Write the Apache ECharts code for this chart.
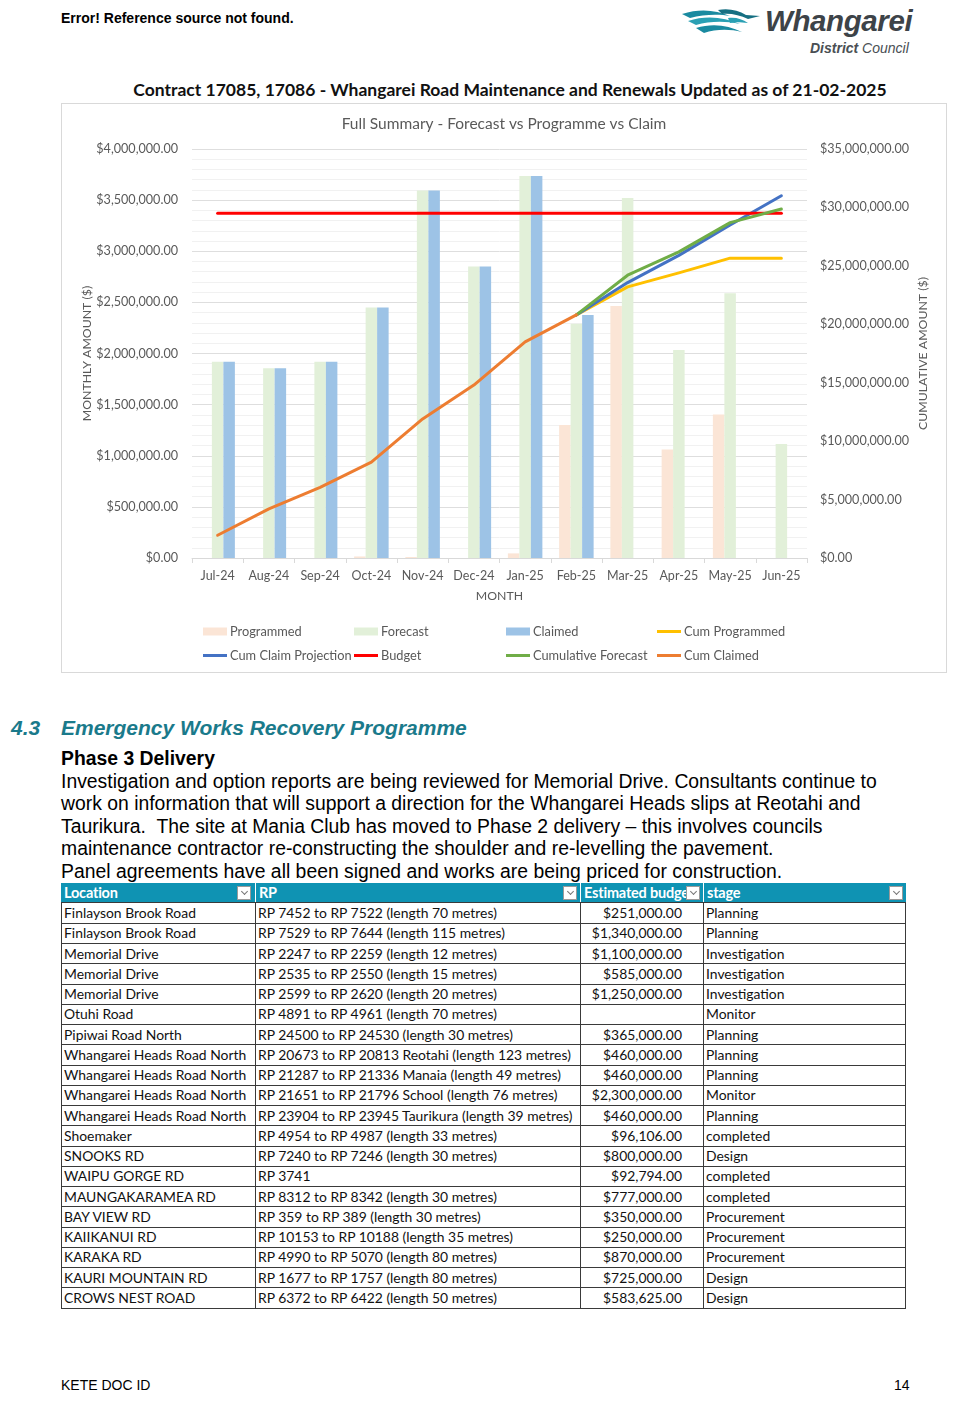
<!DOCTYPE html>
<html>
<head>
<meta charset="utf-8">
<script src="https://cdn.jsdelivr.net/npm/echarts@6/dist/echarts.min.js"></script>
<style>
  html, body { margin:0; padding:0; background:#fff; }
  body { width:967px; height:1402px; position:relative; overflow:hidden; font-family:"Liberation Sans", Arial, sans-serif; color:#000; }
  .abs { position:absolute; white-space:pre; }
  #chartBox { position:absolute; left:61px; top:103px; width:884px; height:568px; border:1px solid #d9d9d9; }
  #chart { position:absolute; left:61px; top:103px; width:886px; height:570px; }
  .para { font-size:20px; line-height:22px; transform:scaleX(0.968); transform-origin:0 0; }
  .cell { position:absolute; box-sizing:border-box; font-family:Lato, "Open Sans", sans-serif; font-size:13.9px; color:#111; white-space:nowrap; overflow:hidden; padding-left:3px; line-height:20px; }
  .hcell { position:absolute; box-sizing:border-box; font-family:Lato, sans-serif; font-weight:bold; font-size:14.5px; color:#fff; white-space:nowrap; overflow:hidden; padding-left:3px; line-height:20px; background:#0f93b3; letter-spacing:-0.2px; }
  .btn { position:absolute; width:14px; height:14px; top:3px; background:#fff; border:1px solid #9a9a9a; box-sizing:border-box; z-index:2; }
  .btn:after { content:""; position:absolute; left:3.5px; top:2px; width:4px; height:4px; border-right:1px solid #777; border-bottom:1px solid #777; transform:rotate(45deg); }
</style>
</head>
<body>
<div class="abs" style="left:61px;top:10px;font-size:14px;font-weight:bold;">Error! Reference source not found.</div>

<svg class="abs" style="left:680px;top:6px;" width="84" height="34" viewBox="0 0 84 34">
  <path d="M2 8 C20 2 36 4 50 10 C40 8 24 8 10 12 Z" fill="#1a8aa0"/>
  <path d="M8 15 C26 9 44 11 60 18 C46 15 30 15 16 19 Z" fill="#2aa0b4"/>
  <path d="M16 22 C32 17 48 19 62 26 C50 23 36 23 24 27 Z" fill="#1a8aa0"/>
  <path d="M38 4 C48 2 58 4 66 9 L80 10 L68 13 C60 9 50 7 42 8 Z" fill="#166f82"/>
  <path d="M48 12 C56 11 62 13 68 17 C60 16 54 16 50 17 Z" fill="#2aa0b4"/>
</svg>
<div class="abs" style="left:765px;top:4px;font-size:29.5px;font-weight:bold;font-style:italic;color:#3d4348;letter-spacing:-0.4px;">Whangarei</div>
<div class="abs" style="left:810px;top:40px;font-size:14px;font-style:italic;color:#4a4f54;"><b>District</b> Council</div>

<div class="abs" style="left:0;width:1020px;top:79px;text-align:center;font-family:Lato, sans-serif;font-weight:bold;font-size:17.5px;color:#111;">Contract 17085, 17086 - Whangarei Road Maintenance and Renewals Updated as of 21-02-2025</div>

<div id="chartBox"></div>
<div id="chart"></div>

<div class="abs" style="left:11px;top:716px;font-size:21px;font-weight:bold;font-style:italic;color:#1a7a8b;">4.3</div>
<div class="abs" style="left:61px;top:716px;font-size:21px;font-weight:bold;font-style:italic;color:#1a7a8b;">Emergency Works Recovery Programme</div>
<div class="abs" style="left:61px;top:747px;font-size:20px;font-weight:bold;transform:scaleX(0.968);transform-origin:0 0;">Phase 3 Delivery</div>
<div class="abs para" style="left:61px;top:770px;">Investigation and option reports are being reviewed for Memorial Drive. Consultants continue to</div>
<div class="abs para" style="left:61px;top:792px;">work on information that will support a direction for the Whangarei Heads slips at Reotahi and</div>
<div class="abs para" style="left:61px;top:815px;">Taurikura.  The site at Mania Club has moved to Phase 2 delivery – this involves councils</div>
<div class="abs para" style="left:61px;top:837px;">maintenance contractor re-constructing the shoulder and re-levelling the pavement.</div>
<div class="abs para" style="left:61px;top:860px;">Panel agreements have all been signed and works are being priced for construction.</div>

<div id="table"></div>

<div class="abs" style="left:61px;top:1377px;font-size:14px;">KETE DOC ID</div>
<div class="abs" style="left:894px;top:1377px;font-size:14px;">14</div>

<script>
// ---- chart data ----
const months = ['Jul-24','Aug-24','Sep-24','Oct-24','Nov-24','Dec-24','Jan-25','Feb-25','Mar-25','Apr-25','May-25','Jun-25'];
const programmed = [0, 0, 0, 15000, 10000, 0, 45000, 1300000, 2465000, 1060000, 1404000, 0];
const forecast = [1920000, 1855000, 1920000, 2450000, 3594000, 2850000, 3735000, 2290000, 3520000, 2034000, 2590000, 1114000];
const claimed = [1920000, 1855000, 1920000, 2450000, 3594000, 2850000, 3735000, 2377000, null, null, null, null];
const cumProgrammed = [null, null, null, null, null, null, null, 20800000, 23200000, 24400000, 25660000, 25660000];
const cumClaimProjection = [null, null, null, null, null, null, null, 20800000, 23570000, 25900000, 28500000, 31000000];
const budget = [29500000, 29500000, 29500000, 29500000, 29500000, 29500000, 29500000, 29500000, 29500000, 29500000, 29500000, 29500000];
const cumForecast = [null, null, null, null, null, null, null, 20800000, 24200000, 26200000, 28700000, 29860000];
const cumClaimed = [1950000, 4200000, 6050000, 8200000, 11900000, 14800000, 18500000, 20800000, null, null, null, null];
const leftTicks = { min: 0, max: 4000000, interval: 500000 };
const rightTicks = { min: 0, max: 35000000, interval: 5000000 };

// ---- table data ----
const tableHeader = ['Location', 'RP', 'Estimated budget', 'stage'];
const tLocation = ['Finlayson Brook Road','Finlayson Brook Road','Memorial Drive','Memorial Drive','Memorial Drive','Otuhi Road','Pipiwai Road North','Whangarei Heads Road North','Whangarei Heads Road North','Whangarei Heads Road North','Whangarei Heads Road North','Shoemaker','SNOOKS RD','WAIPU GORGE RD','MAUNGAKARAMEA RD','BAY VIEW RD','KAIIKANUI RD','KARAKA RD','KAURI MOUNTAIN RD','CROWS NEST ROAD'];
const tRP = ['RP 7452 to RP 7522 (length 70 metres)','RP 7529 to RP 7644 (length 115 metres)','RP 2247 to RP 2259 (length 12 metres)','RP 2535 to RP 2550 (length 15 metres)','RP 2599 to RP 2620 (length 20 metres)','RP 4891 to RP 4961 (length 70 metres)','RP 24500 to RP 24530 (length 30 metres)','RP 20673 to RP 20813 Reotahi (length 123 metres)','RP 21287 to RP 21336  Manaia (length 49 metres)','RP 21651 to RP 21796 School (length 76 metres)','RP 23904 to RP 23945 Taurikura (length 39 metres)','RP 4954 to RP 4987 (length 33 metres)','RP 7240 to RP 7246 (length 30 metres)','RP 3741','RP 8312 to RP 8342 (length 30 metres)','RP 359 to RP 389 (length 30 metres)','RP 10153 to RP 10188 (length 35 metres)','RP 4990 to RP 5070 (length 80 metres)','RP 1677 to RP 1757 (length 80 metres)','RP 6372 to RP 6422 (length 50 metres)'];
const tBudget = ['$251,000.00','$1,340,000.00','$1,100,000.00','$585,000.00','$1,250,000.00','','$365,000.00','$460,000.00','$460,000.00','$2,300,000.00','$460,000.00','$96,106.00','$800,000.00','$92,794.00','$777,000.00','$350,000.00','$250,000.00','$870,000.00','$725,000.00','$583,625.00'];
const tStage = ['Planning','Planning','Investigation','Investigation','Investigation','Monitor','Planning','Planning','Planning','Monitor','Planning','completed','Design','completed','completed','Procurement','Procurement','Procurement','Design','Design'];

// ---- table rendering ----
(function(){
  const colX = [61, 255, 580, 703, 906];
  const top0 = 883, hH = 20, rH = 20.25;
  const host = document.getElementById('table');
  let html = '';
  for (let c = 0; c < 4; c++) {
    const w = colX[c+1] - colX[c];
    html += `<div class="hcell" style="left:${colX[c]}px;top:${top0}px;width:${w}px;height:${hH}px;${c>0?'border-left:1px solid #fff;':''}">${tableHeader[c]}<span class="btn" style="left:${w-18}px"></span></div>`;
  }
  const cols = [tLocation, tRP, tBudget, tStage];
  for (let r = 0; r < tLocation.length; r++) {
    const y = top0 + hH + r * rH;
    for (let c = 0; c < 4; c++) {
      const w = colX[c+1] - colX[c];
      const align = c === 2 ? 'text-align:right;padding-right:21px;' : '';
      html += `<div class="cell" style="left:${colX[c]}px;top:${y}px;width:${w}px;height:${rH}px;${align}">${cols[c][r]}</div>`;
    }
    html += `<div class="abs" style="left:61px;top:${(y + rH - 0.5).toFixed(2)}px;width:845px;height:1px;background:#3a3a3a;"></div>`;
  }
  const bottom = top0 + hH + tLocation.length * rH;
  for (let c = 0; c < 5; c++) {
    html += `<div class="abs" style="left:${colX[c] - (c===4?1:0)}px;top:${top0 + hH}px;width:1px;height:${bottom - top0 - hH}px;background:#3a3a3a;"></div>`;
  }
  html += `<div class="abs" style="left:61px;top:${top0 + hH - 1}px;width:845px;height:1px;background:#3a3a3a;"></div>`;
  host.innerHTML = html;
})();

// ---- chart ----
const chart = echarts.init(document.getElementById('chart'), null, { renderer: 'canvas' });
const F = 'Lato, "Open Sans", sans-serif';
const grey = '#595959';
const lineSeries = (name, data, color) => ({
  name, type: 'line', yAxisIndex: 1, data, symbol: 'none', showSymbol: false,
  lineStyle: { width: 3, color, cap: 'round', join: 'round' }, itemStyle: { color },
  connectNulls: false, animation: false, z: 3
});
const barSeries = (name, data, color) => ({
  name, type: 'bar', yAxisIndex: 0, data, barWidth: 11.5, barGap: '0%',
  itemStyle: { color }, animation: false
});
const legendItem = (name, left, top, h) => ({
  data: [{ name, icon: 'rect' }], left, top, padding: 0, itemWidth: 24, itemHeight: h,
  selectedMode: false, textStyle: { color: grey, fontSize: 12.8, fontFamily: F, padding: [0, 0, 0, -2] }
});
const money = v => '$' + v.toLocaleString('en-US', { minimumFractionDigits: 2, maximumFractionDigits: 2 });
chart.setOption({
  animation: false,
  title: {
    text: 'Full Summary - Forecast vs Programme vs Claim', left: 'center', top: 8,
    textStyle: { color: grey, fontSize: 15.5, fontWeight: 'normal', fontFamily: F }
  },
  legend: [
    legendItem('Programmed', 142, 522, 8),
    legendItem('Forecast', 293, 522, 8),
    legendItem('Claimed', 445, 522, 8),
    legendItem('Cum Programmed', 596, 522, 3),
    legendItem('Cum Claim Projection', 142, 546, 3),
    legendItem('Budget', 293, 546, 3),
    legendItem('Cumulative Forecast', 445, 546, 3),
    legendItem('Cum Claimed', 596, 546, 3)
  ],
  grid: { left: 131, right: 140, top: 46, bottom: 115, containLabel: false, outerBoundsMode: 'none' },
  xAxis: {
    type: 'category', data: months, boundaryGap: true,
    name: 'MONTH', nameLocation: 'middle', nameGap: 32, nameMoveOverlap: false,
    nameTextStyle: { color: grey, fontSize: 12.3, fontFamily: F },
    axisLine: { lineStyle: { color: '#d9d9d9' } },
    axisTick: { show: true, length: 5, lineStyle: { color: '#d9d9d9' } },
    axisLabel: { color: grey, fontSize: 12.5, fontFamily: F, margin: 11, interval: 0 }
  },
  yAxis: [
    {
      type: 'value', position: 'left', min: leftTicks.min, max: leftTicks.max, interval: leftTicks.interval,
      name: 'MONTHLY AMOUNT ($)', nameLocation: 'middle', nameRotate: 90, nameGap: 99, nameMoveOverlap: false,
      nameTextStyle: { color: grey, fontSize: 12.3, fontFamily: F },
      axisLine: { show: false }, axisTick: { show: false },
      axisLabel: { color: grey, fontSize: 12.6, fontFamily: F, margin: 14, formatter: money },
      splitLine: { show: true, lineStyle: { color: '#dedede', width: 1 } },
      minorTick: { show: false, splitNumber: 5 },
      minorSplitLine: { show: true, lineStyle: { color: '#f1f1f1', width: 1 } }
    },
    {
      type: 'value', position: 'right', min: rightTicks.min, max: rightTicks.max, interval: rightTicks.interval,
      name: 'CUMULATIVE AMOUNT ($)', nameLocation: 'middle', nameRotate: 90, nameGap: 110, nameMoveOverlap: false,
      nameTextStyle: { color: grey, fontSize: 12.3, fontFamily: F },
      axisLine: { show: false }, axisTick: { show: false },
      axisLabel: { color: grey, fontSize: 12.6, fontFamily: F, margin: 13, formatter: money },
      splitLine: { show: false }
    }
  ],
  series: [
    barSeries('Programmed', programmed, '#fbe5d6'),
    barSeries('Forecast', forecast, '#e2f0d9'),
    barSeries('Claimed', claimed, '#9dc3e6'),
    lineSeries('Cum Programmed', cumProgrammed, '#ffc000'),
    lineSeries('Cum Claim Projection', cumClaimProjection, '#4472c4'),
    lineSeries('Budget', budget, '#ff0000'),
    lineSeries('Cumulative Forecast', cumForecast, '#70ad47'),
    lineSeries('Cum Claimed', cumClaimed, '#ed7d31')
  ]
});
</script>
</body>
</html>
